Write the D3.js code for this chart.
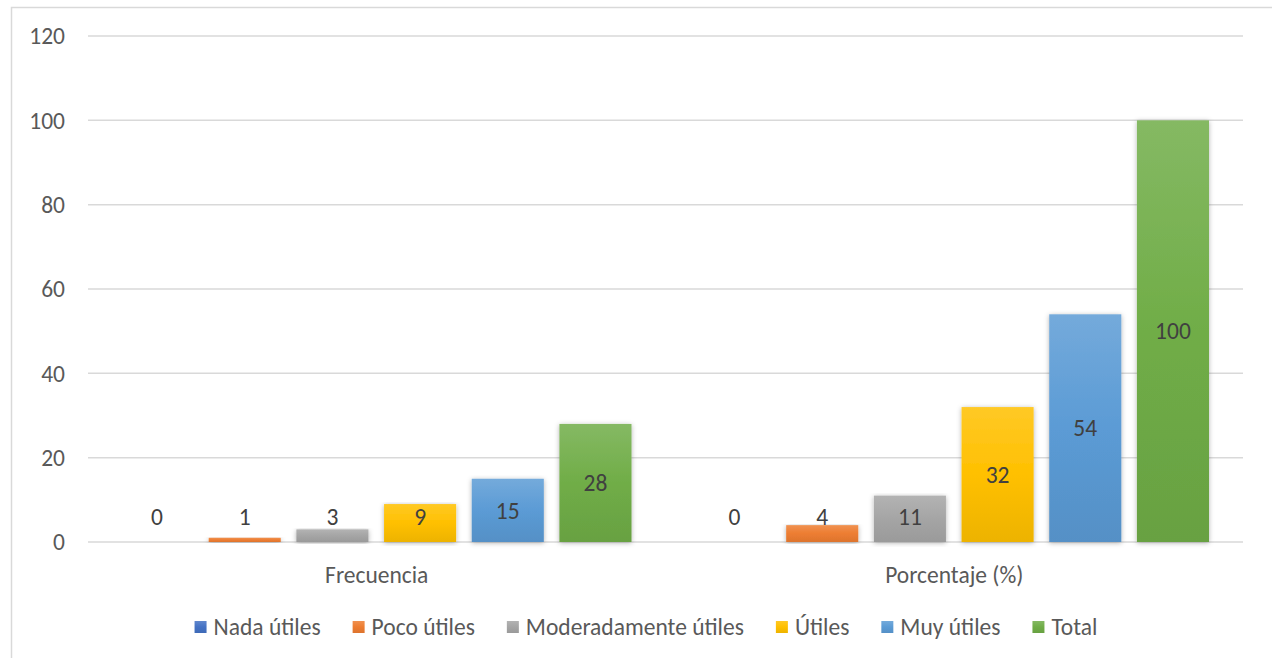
<!DOCTYPE html>
<html>
<head>
<meta charset="utf-8">
<script src="https://cdn.jsdelivr.net/npm/d3@7"></script>
<style>
  body { margin: 0; background: #fff; }
  text { font-family: Calibri, Carlito, Lato, "Liberation Sans", sans-serif; fill: #595959; }
</style>
</head>
<body>
<div id="chart"></div>
<script>
const categories = ['Frecuencia', 'Porcentaje (%)'];
const seriesNames = ['Nada útiles', 'Poco útiles', 'Moderadamente útiles', 'Útiles', 'Muy útiles', 'Total'];
const seriesColors = ['#4472C4', '#ED7D31', '#A5A5A5', '#FFC000', '#5B9BD5', '#70AD47'];
const frecuencia = [0, 1, 3, 9, 15, 28];
const porcentaje = [0, 4, 11, 32, 54, 100];
const yTicks = [0, 20, 40, 60, 80, 100, 120];

const width = 1272, height = 658;
const margin = { top: 36, right: 29, bottom: 116, left: 88 };
const fontSize = '23.5px';

const svg = d3.select('#chart').append('svg')
  .attr('width', width).attr('height', height);

// chart outline (only left and top edges fall inside the picture)
svg.append('rect')
  .attr('x', 11.5).attr('y', 7.5)
  .attr('width', 1300).attr('height', 700)
  .attr('fill', 'none').attr('stroke', '#d9d9d9').attr('stroke-width', 1.5);

const defs = svg.append('defs');
seriesColors.forEach((c, i) => {
  const g = defs.append('linearGradient').attr('id', 'grad' + i)
    .attr('x1', 0).attr('y1', 0).attr('x2', 0).attr('y2', 1);
  g.append('stop').attr('offset', '0%').attr('stop-color', d3.interpolateRgb(c, '#fff')(0.15));
  g.append('stop').attr('offset', '50%').attr('stop-color', c);
  g.append('stop').attr('offset', '100%').attr('stop-color', d3.color(c).darker(0.2));
});
const shadow = defs.append('filter').attr('id', 'shadow')
  .attr('x', '-20%').attr('y', '-5%').attr('width', '140%').attr('height', '115%');
shadow.append('feDropShadow').attr('dx', 0).attr('dy', 1).attr('stdDeviation', 2.5)
  .attr('flood-color', '#000').attr('flood-opacity', 0.3);

const x0 = d3.scaleBand().domain(categories)
  .range([margin.left, width - margin.right]).paddingInner(0).paddingOuter(0);
const x1 = d3.scaleBand().domain(seriesNames)
  .range([33, 543.5]).paddingInner(0.178).paddingOuter(0);
const y = d3.scaleLinear().domain([0, 120]).range([height - margin.bottom, margin.top]);

// grid
svg.append('g').selectAll('line').data(yTicks).enter().append('line')
  .attr('x1', margin.left).attr('x2', width - margin.right)
  .attr('y1', d => y(d)).attr('y2', d => y(d))
  .attr('stroke', '#d9d9d9').attr('stroke-width', 1.5);

// y axis labels
svg.append('g').selectAll('text').data(yTicks).enter().append('text')
  .attr('x', 65).attr('y', d => y(d)).attr('dy', '0.35em')
  .attr('text-anchor', 'end').style('font-size', fontSize)
  .text(d => d);

const data = categories.map((c, ci) => ({
  cat: c,
  values: (ci === 0 ? frecuencia : porcentaje).map((v, si) => ({ name: seriesNames[si], idx: si, v }))
}));

const groups = svg.append('g').selectAll('g').data(data).enter().append('g')
  .attr('transform', d => `translate(${x0(d.cat)},0)`);

groups.selectAll('rect').data(d => d.values.filter(e => e.v > 0)).enter().append('rect')
  .attr('x', d => x1(d.name))
  .attr('width', x1.bandwidth())
  .attr('y', d => y(d.v))
  .attr('height', d => y(0) - y(d.v))
  .attr('fill', d => `url(#grad${d.idx})`)
  .attr('filter', 'url(#shadow)');

groups.selectAll('text.lbl').data(d => d.values).enter().append('text')
  .attr('class', 'lbl')
  .attr('x', d => x1(d.name) + x1.bandwidth() / 2)
  .attr('y', d => Math.min((y(d.v) + y(0)) / 2, y(0) - 25))
  .attr('dy', '0.35em')
  .attr('text-anchor', 'middle')
  .style('font-size', fontSize)
  .style('fill', '#404040')
  .text(d => d.v);

// category labels
svg.append('g').selectAll('text').data(categories).enter().append('text')
  .attr('x', d => x0(d) + x0.bandwidth() / 2)
  .attr('y', 575).attr('dy', '0.35em')
  .attr('text-anchor', 'middle').style('font-size', fontSize)
  .text(d => d);

// legend
const legend = svg.append('g');
const items = legend.selectAll('g').data(seriesNames).enter().append('g');
items.append('rect')
  .attr('width', 12).attr('height', 12).attr('y', -6)
  .attr('fill', (d, i) => `url(#grad${i})`);
items.append('text')
  .attr('x', 19).attr('dy', '0.35em').style('font-size', fontSize)
  .text(d => d);
let offset = 0;
items.each(function () {
  const w = d3.select(this).select('text').node().getComputedTextLength();
  d3.select(this).attr('transform', `translate(${offset},0)`);
  offset += 19 + w + 32;
});
const total = offset - 32;
legend.attr('transform', `translate(${646 - total / 2},627)`);
</script>
</body>
</html>
